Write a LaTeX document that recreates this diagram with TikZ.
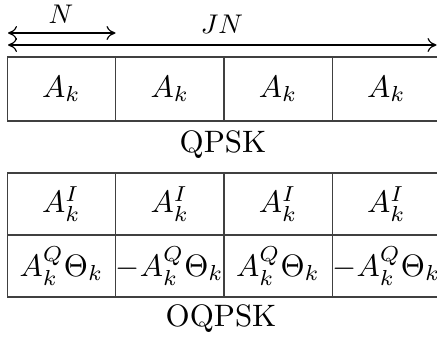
\documentclass[tikz,border=0pt]{standalone}
\usetikzlibrary{arrows.meta}
\newcommand{\celltxt}[1]{\scalebox{1.55}{#1}}
\newcommand{\dimtxt}[1]{\scalebox{1.35}{#1}}
\begin{document}
\begin{tikzpicture}[x=0.5pt,y=-0.5pt,
  cell/.style={draw=black!75,line width=0.6pt,rectangle,inner sep=0pt,
    minimum width=54.15pt},
  toprow/.style={cell,minimum height=32pt},
  botrow/.style={cell,minimum height=31pt},
  lbl/.style={inner sep=0pt},
  dimlbl/.style={inner sep=0pt},
  dimarrow/.style={line width=0.6pt,{To[length=4.5pt,width=7pt]}-{To[length=4.5pt,width=7pt]}}]
\useasboundingbox (0,0) rectangle (437,343);
\clip (0,0) rectangle (437,343);
% dimension arrows
\coordinate (nL) at (8,33);
\coordinate (nR) at (115.5,33);
\coordinate (jL) at (8,45);
\coordinate (jR) at (436.5,45);
\draw[dimarrow] (nL) -- (nR);
\draw[dimarrow] (jL) -- (jR);
\node[dimlbl] (lN) at (61,14) {\dimtxt{$N$}};
\node[dimlbl] (lJN) at (222,24) {\dimtxt{$JN$}};
% QPSK row
\node[toprow] (q1) at (61.45,89) {\celltxt{$A_k$}};
\node[toprow] (q2) at (169.75,89) {\celltxt{$A_k$}};
\node[toprow] (q3) at (278.05,89) {\celltxt{$A_k$}};
\node[toprow] (q4) at (386.35,89) {\celltxt{$A_k$}};
\node[lbl] (lq) at (223,145) {\celltxt{QPSK}};
% OQPSK rows
\node[botrow] (i1) at (61.45,204) {\celltxt{$A_k^I$}};
\node[botrow] (i2) at (169.75,204) {\celltxt{$A_k^I$}};
\node[botrow] (i3) at (278.05,204) {\celltxt{$A_k^I$}};
\node[botrow] (i4) at (386.35,204) {\celltxt{$A_k^I$}};
\node[botrow] (o1) at (61.45,266) {\celltxt{$A_k^Q\Theta_k$}};
\node[botrow] (o2) at (169.75,266) {\celltxt{$-A_k^Q\Theta_k$}};
\node[botrow] (o3) at (278.05,266) {\celltxt{$A_k^Q\Theta_k$}};
\node[botrow] (o4) at (386.35,266) {\celltxt{$-A_k^Q\Theta_k$}};
\node[lbl] (lo) at (221,319) {\celltxt{OQPSK}};
\end{tikzpicture}
\end{document}
